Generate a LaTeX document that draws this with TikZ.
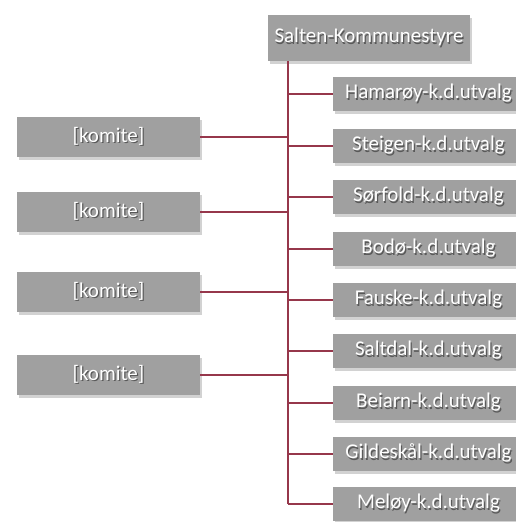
\documentclass[tikz,border=0pt]{standalone}
\usepackage{fontspec}
\setmainfont{Carlito}
\usetikzlibrary{shadows}
\definecolor{boxgray}{RGB}{160,160,160}
\definecolor{linecol}{RGB}{150,55,75}
\newcommand\shtxt[1]{\makebox[0pt][l]{\hspace{1.2pt}\raisebox{-1.5pt}{\textcolor{black!65}{#1}}}\textcolor{white}{#1}}
\begin{document}
\begin{tikzpicture}[x=1pt,y=-1pt,
  box/.style={fill=boxgray, draw=none, inner sep=0pt, font=\fontsize{21}{24}\selectfont,
    drop shadow={shadow xshift=2pt, shadow yshift=-3pt, fill=gray!70, opacity=0.5}},
  topbox/.style={box, minimum width=202pt, minimum height=46pt},
  rbox/.style={box, minimum width=183pt, minimum height=34pt, text width=183pt, align=center},
  lbox/.style={box, minimum width=183pt, minimum height=40pt},
  conn/.style={draw=linecol, line width=1.3pt}]
\useasboundingbox (0,0) rectangle (516,522);
\node[topbox] (top) at (369,38) {\shtxt{Salten-Kommunestyre}};
\node[rbox] (r1) at (424.5,94) {\hspace*{8pt}\shtxt{Hamarøy-k.d.utvalg}};
\node[rbox] (r2) at (424.5,146) {\hspace*{8pt}\shtxt{Steigen-k.d.utvalg}};
\node[rbox] (r3) at (424.5,197) {\hspace*{8pt}\shtxt{Sørfold-k.d.utvalg}};
\node[rbox] (r4) at (424.5,249) {\hspace*{8pt}\shtxt{Bodø-k.d.utvalg}};
\node[rbox] (r5) at (424.5,300) {\hspace*{8pt}\shtxt{Fauske-k.d.utvalg}};
\node[rbox] (r6) at (424.5,351) {\hspace*{8pt}\shtxt{Saltdal-k.d.utvalg}};
\node[rbox] (r7) at (424.5,403) {\hspace*{8pt}\shtxt{Beiarn-k.d.utvalg}};
\node[rbox] (r8) at (424.5,454) {\hspace*{8pt}\shtxt{Gildeskål-k.d.utvalg}};
\node[rbox] (r9) at (424.5,504) {\hspace*{8pt}\shtxt{Meløy-k.d.utvalg}};
\node[lbox] (l1) at (108.5,137) {\shtxt{[komite]}};
\node[lbox] (l2) at (108.5,212) {\shtxt{[komite]}};
\node[lbox] (l3) at (108.5,292) {\shtxt{[komite]}};
\node[lbox] (l4) at (108.5,375) {\shtxt{[komite]}};
\coordinate (tr) at (288,0);
\draw[conn] (top.south -| tr) -- (r9.west -| tr);
\foreach \n in {r1,r2,r3,r4,r5,r6,r7,r8,r9}{\draw[conn] (\n.west -| tr) -- (\n.west);}
\foreach \n in {l1,l2,l3,l4}{\draw[conn] (\n.east) -- (\n.east -| tr);}
\end{tikzpicture}
\end{document}
